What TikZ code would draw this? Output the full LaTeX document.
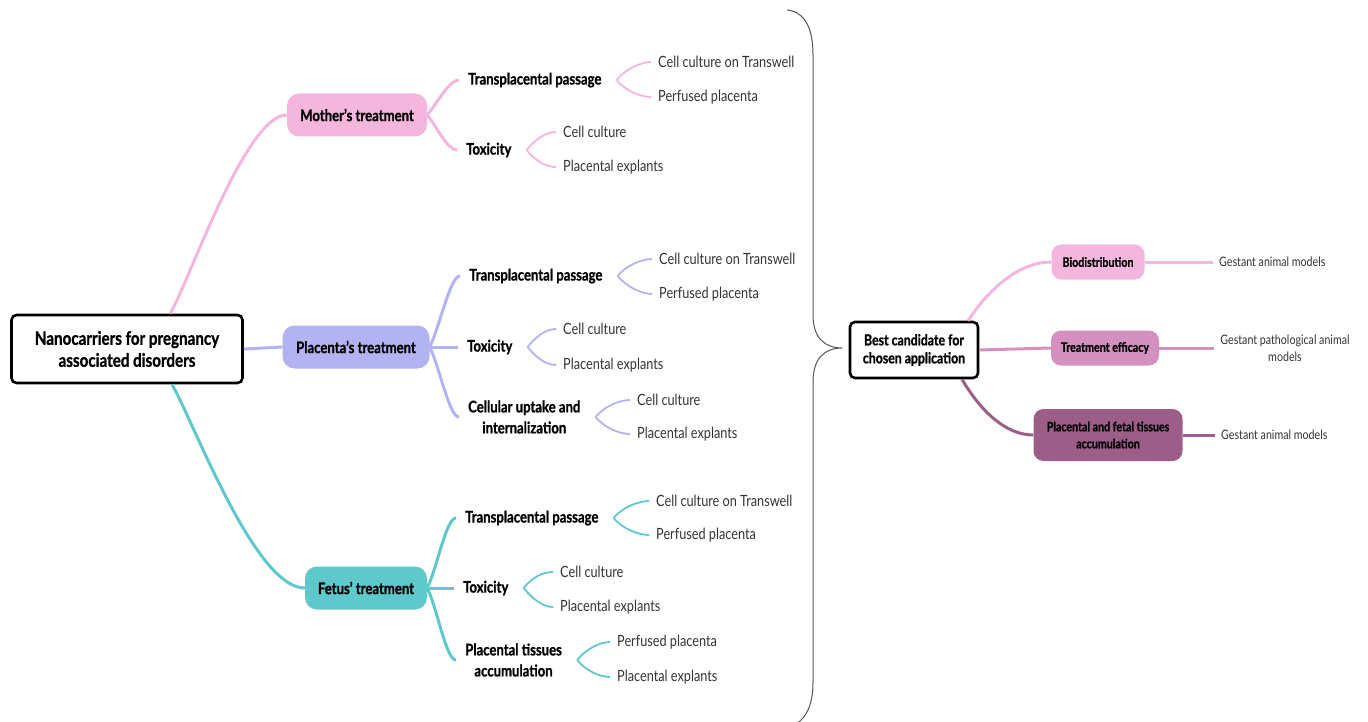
\documentclass[tikz,border=0pt]{standalone}
\usepackage{fontspec}
\setmainfont{Lato}[FakeStretch=0.82, BoldFeatures={FakeBold=1}]
\definecolor{momline}{HTML}{F4B6DD}
\definecolor{placline}{HTML}{B4B3F1}
\definecolor{fetline}{HTML}{5FC8CA}
\definecolor{effline}{HTML}{D491C0}
\definecolor{accline}{HTML}{9C5D88}
\definecolor{leafgray}{HTML}{333333}
\definecolor{bracegray}{HTML}{555555}

\begin{document}
\begin{tikzpicture}[x=1pt, y=-1pt,
  rootbox/.style={draw=black, line width=2.6pt, rounded corners=5pt, fill=white, text=black, align=center, inner sep=2pt},
  branchbox/.style={rounded corners=12pt, text=black, align=center, inner sep=2pt, font=\bfseries\fontsize{16}{19}\selectfont},
  topic/.style={anchor=west, text=black, align=center, inner xsep=9pt, font=\bfseries\fontsize{16}{21}\selectfont},
  leaf/.style={anchor=west, text=leafgray, inner xsep=7pt, font=\fontsize{15.5}{17}\selectfont},
  link/.style={line width=3pt},
  fork/.style={line width=1.8pt},
  rbox/.style={rounded corners=10pt, text=black, align=center, inner sep=2pt, font=\bfseries\fontsize{13}{17}\selectfont},
  rleaf/.style={text=leafgray, align=center, inner xsep=6pt, font=\fontsize{13}{17}\selectfont}]
  \useasboundingbox (0,0) rectangle (1368,722);

  \node[rootbox, minimum width=231, minimum height=68, font=\bfseries\fontsize{18.5}{22}\selectfont] (root) at (127,349) {Nanocarriers for pregnancy\\associated disorders};

  \begin{scope}[momline]
    \node[branchbox, fill=momline, minimum width=140, minimum height=43] (mother) at (357,115) {Mother's treatment};
    \node[topic] (m1) at (459,80) {Transplacental passage};
    \node[topic] (m2) at (457,150) {Toxicity};
    \node[leaf] (m1a) at (651,62) {Cell culture on Transwell};
    \node[leaf] (m1b) at (651,97) {Perfused placenta};
    \node[leaf] (m2a) at (556,132) {Cell culture};
    \node[leaf] (m2b) at (556,167) {Placental explants};
    \draw[link] ([xshift=43pt]root.north) .. controls (188,285) and (245,115) .. (mother.west);
    \draw[link] (mother.east) .. controls +(10,-12) and +(-10,0) .. (m1.west);
    \draw[link] (mother.east) .. controls +(10,12) and +(-10,0) .. (m2.west);
    \foreach \t/\a/\b in {m1/m1a/m1b, m2/m2a/m2b} {
      \draw[fork] (\t.east) ++(6,0) .. controls +(9,-11) and +(-10,0) .. (\a.west);
      \draw[fork] (\t.east) ++(6,0) .. controls +(9,11) and +(-10,0) .. (\b.west);
    }
  \end{scope}

  \begin{scope}[placline]
    \node[branchbox, fill=placline, minimum width=147, minimum height=43] (placenta) at (356,347) {Placenta's treatment};
    \node[topic] (p1) at (460,276) {Transplacental passage};
    \node[topic] (p2) at (458,347) {Toxicity};
    \node[topic] (p3) at (459,417) {Cellular uptake and\\internalization};
    \node[leaf] (p1a) at (652,259) {Cell culture on Transwell};
    \node[leaf] (p1b) at (652,294) {Perfused placenta};
    \node[leaf] (p2a) at (556,329) {Cell culture};
    \node[leaf] (p2b) at (556,365) {Placental explants};
    \node[leaf] (p3a) at (630,400) {Cell culture};
    \node[leaf] (p3b) at (630,434) {Placental explants};
    \draw[link] (root.east) -- (placenta.west);
    \draw[link] (placenta.east) .. controls +(10,-20) and +(-10,0) .. (p1.west);
    \draw[link] (placenta.east) -- (p2.west);
    \draw[link] (placenta.east) .. controls +(10,20) and +(-10,0) .. (p3.west);
    \foreach \t/\a/\b in {p1/p1a/p1b, p2/p2a/p2b, p3/p3a/p3b} {
      \draw[fork] (\t.east) ++(6,0) .. controls +(9,-11) and +(-10,0) .. (\a.west);
      \draw[fork] (\t.east) ++(6,0) .. controls +(9,11) and +(-10,0) .. (\b.west);
    }
  \end{scope}

  \begin{scope}[fetline]
    \node[branchbox, fill=fetline, minimum width=122, minimum height=43] (fetus) at (366,588) {Fetus' treatment};
    \node[topic] (f1) at (456,518) {Transplacental passage};
    \node[topic] (f2) at (454,588) {Toxicity};
    \node[topic] (f3) at (456,660) {Placental tissues\\accumulation};
    \node[leaf] (f1a) at (649,501) {Cell culture on Transwell};
    \node[leaf] (f1b) at (649,535) {Perfused placenta};
    \node[leaf] (f2a) at (553,572) {Cell culture};
    \node[leaf] (f2b) at (553,607) {Placental explants};
    \node[leaf] (f3a) at (610,642) {Perfused placenta};
    \node[leaf] (f3b) at (610,677) {Placental explants};
    \draw[link] ([xshift=45pt]root.south) .. controls (195,425) and (255,588) .. (fetus.west);
    \draw[link] (fetus.east) .. controls +(10,-20) and +(-10,0) .. (f1.west);
    \draw[link] (fetus.east) -- (f2.west);
    \draw[link] (fetus.east) .. controls +(10,20) and +(-10,0) .. (f3.west);
    \foreach \t/\a/\b in {f1/f1a/f1b, f2/f2a/f2b, f3/f3a/f3b} {
      \draw[fork] (\t.east) ++(6,0) .. controls +(9,-11) and +(-10,0) .. (\a.west);
      \draw[fork] (\t.east) ++(6,0) .. controls +(9,11) and +(-10,0) .. (\b.west);
    }
  \end{scope}

  \draw[bracegray, line width=1pt] (787,10) .. controls (806,12) and (813,30) .. (813,55)
    -- (813,315) .. controls (813,338) and (825,348) .. (842,348)
    .. controls (825,348) and (813,358) .. (813,382)
    -- (813,682) .. controls (813,705) and (806,718) .. (796,724);

  \node[rootbox, minimum width=128, minimum height=56, font=\bfseries\fontsize{15}{18}\selectfont] (best) at (914,350) {Best candidate for\\chosen application};
  \node[rbox, fill=momline, minimum width=93, minimum height=35] (bio) at (1098,262) {Biodistribution};
  \node[rbox, fill=effline, minimum width=108, minimum height=35] (eff) at (1105,348) {Treatment efficacy};
  \node[rbox, fill=accline, minimum width=149, minimum height=52] (acc) at (1108,435) {Placental and fetal tissues\\accumulation};
  \node[rleaf, anchor=west] (bioL) at (1213,262) {Gestant animal models};
  \node[rleaf] (effL) at (1285,348) {Gestant pathological animal\\models};
  \node[rleaf, anchor=west] (accL) at (1215,435) {Gestant animal models};
  \draw[link, momline] ([xshift=54pt]best.north) .. controls (985,295) and (1015,262) .. (bio.west);
  \draw[link, effline] (best.east) -- (eff.west);
  \draw[link, accline] ([xshift=48pt]best.south) .. controls (980,410) and (1005,435) .. (acc.west);
  \draw[link, momline] (bio.east) -- (bioL.west);
  \draw[link, effline] (eff.east) -- (effL.west);
  \draw[link, accline] (acc.east) -- (accL.west);
\end{tikzpicture}
\end{document}
